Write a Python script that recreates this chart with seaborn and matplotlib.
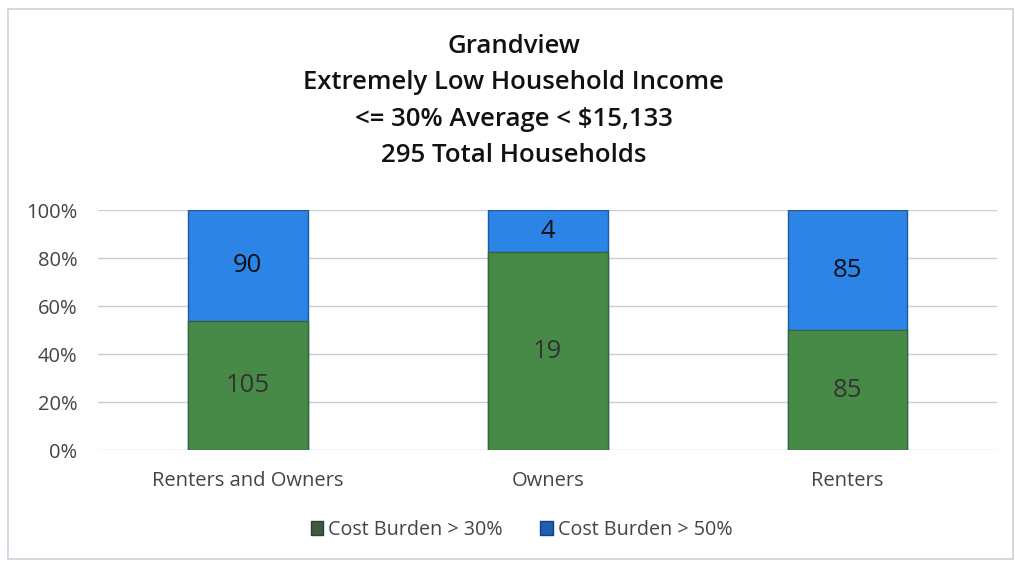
import numpy as np
import pandas as pd
import matplotlib
matplotlib.use("Agg")
import matplotlib.pyplot as plt
import seaborn as sns
from matplotlib.patches import Rectangle

categories = ["Renters and Owners", "Owners", "Renters"]
burden_30 = [105, 19, 85]
burden_50 = [90, 4, 85]
series_names = ["Cost Burden > 30%", "Cost Burden > 50%"]
title_lines = ["Grandview", "Extremely Low Household Income",
               "<= 30% Average < $15,133", "295 Total Households"]

green = "#478a48"
blue = "#2b84e6"

sns.set_theme(style="white")
plt.rcParams["font.family"] = ["Open Sans", "DejaVu Sans"]

totals = np.array(burden_30) + np.array(burden_50)
df = pd.DataFrame({
    "category": categories,
    "pct30": np.array(burden_30) / totals * 100,
    "pct_total": np.full(len(categories), 100.0),
})

fig = plt.figure(figsize=(10.15, 5.62), dpi=100)
ax = fig.add_axes([0.0966, 0.199, 0.886, 0.427])

# full height in blue, green drawn over it
sns.barplot(data=df, x="category", y="pct_total", color=blue, width=0.4,
            saturation=1, edgecolor="#1d5aa0", linewidth=1.0, ax=ax)
sns.barplot(data=df, x="category", y="pct30", color=green, width=0.4,
            saturation=1, edgecolor="#35663a", linewidth=1.0, ax=ax)

bars_30 = ax.containers[1]
for i, b30 in enumerate(bars_30):
    x = b30.get_x() + b30.get_width() / 2
    h30 = b30.get_height()
    ax.text(x, h30 / 2, str(burden_30[i]), ha="center", va="center",
            fontsize=18.5, color="#333333")
    ax.text(x, (h30 + 100) / 2, str(burden_50[i]), ha="center", va="center",
            fontsize=18.5, color="#111111")

ax.set_xlim(-0.5, 2.5)
ax.set_ylim(0, 100)
ax.set_yticks([0, 20, 40, 60, 80, 100])
ax.set_yticklabels([f"{v}%" for v in [0, 20, 40, 60, 80, 100]])
ax.yaxis.grid(True, color="#c5d0dd", linewidth=1)
ax.set_axisbelow(True)
for s in ax.spines.values():
    s.set_visible(False)
ax.tick_params(axis="y", labelsize=14.5, labelcolor="#444444", length=0, pad=15)
ax.tick_params(axis="x", labelsize=14.5, labelcolor="#444444", length=0, pad=15)
ax.set_xlabel("")
ax.set_ylabel("")

fig.text(0.506, 0.82, "\n".join(title_lines), ha="center", va="center",
         fontsize=18.5, color="#111111", linespacing=1.6, fontweight="semibold")

handles = [Rectangle((0, 0), 1, 1, facecolor="#3f5a42", edgecolor="#2f3f30"),
           Rectangle((0, 0), 1, 1, facecolor="#1f5fb0", edgecolor="#183f80")]
fig.legend(handles, series_names, loc="center", bbox_to_anchor=(0.514, 0.057),
           ncol=2, frameon=False, fontsize=14.2, handlelength=0.65,
           handleheight=0.65, handletextpad=0.25, columnspacing=1.9,
           labelcolor="#444444")

# light frame around the chart
fig.patches.append(Rectangle((0.008, 0.006), 0.99, 0.978, transform=fig.transFigure,
                             fill=False, edgecolor="#c8d2de", linewidth=1.2))

fig.savefig("out.png", dpi=100)
